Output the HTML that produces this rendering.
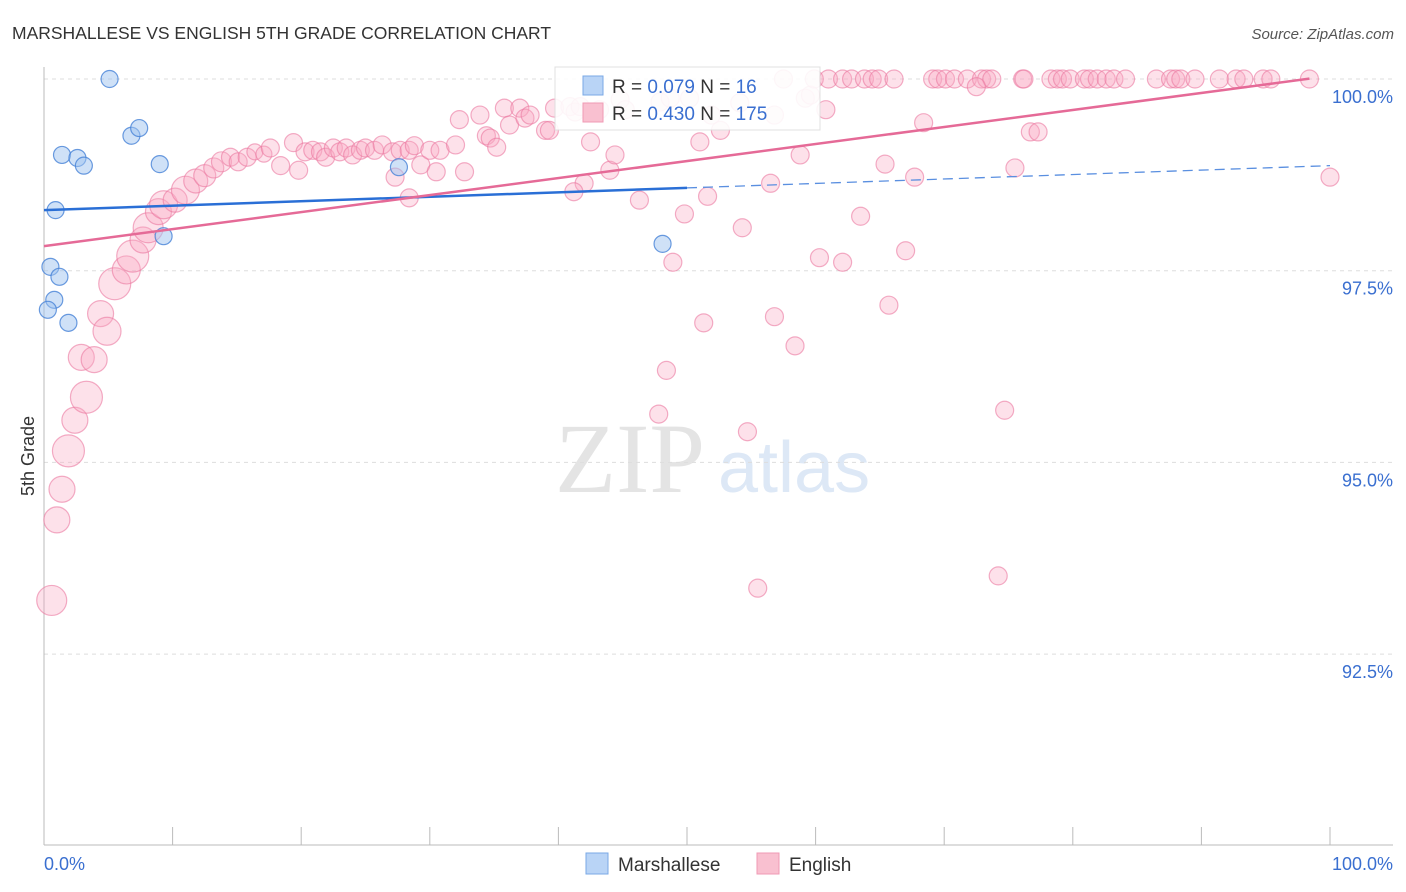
<!DOCTYPE html>
<html><head><meta charset="utf-8"><style>
body{margin:0;background:#fff;font-family:"Liberation Sans",sans-serif}
svg{display:block}
</style></head><body>
<svg id="c" width="1406" height="892" xmlns="http://www.w3.org/2000/svg">
<text x="12" y="39" font-size="17.5" fill="#333">MARSHALLESE VS ENGLISH 5TH GRADE CORRELATION CHART</text>
<text x="1394" y="39" font-size="15" fill="#555" text-anchor="end" font-style="italic">Source: ZipAtlas.com</text>
<text x="555" y="492" font-size="100" fill="#e4e4e4" font-family="Liberation Serif,serif">ZIP</text>
<text x="718" y="492" font-size="72" fill="#dde8f6">atlas</text>
<g id="grid"></g><g id="axes"></g><g id="pink"></g><g id="blue"></g><g id="lines"></g>
<text transform="translate(34,456) rotate(-90)" font-size="18" fill="#333" text-anchor="middle">5th Grade</text>
<g>
<rect x="555" y="67" width="265" height="63" fill="#fff" stroke="#ddd" opacity="0.9"/>
<rect x="583" y="76" width="20" height="19" fill="#b9d4f6" stroke="#7aa8e6"/>
<rect x="583" y="103" width="20" height="19" fill="#f9c0d0" stroke="#f09ab4"/>
<text x="612" y="93" font-size="19" fill="#333">R = <tspan fill="#3a6fd0">0.079</tspan>   N =   <tspan fill="#3a6fd0">16</tspan></text>
<text x="612" y="120" font-size="19" fill="#333">R = <tspan fill="#3a6fd0">0.430</tspan>   N = <tspan fill="#3a6fd0">175</tspan></text>
</g>
<g>
<rect x="586" y="853" width="22" height="21" fill="#b9d4f6" stroke="#7aa8e6"/>
<text x="618" y="871" font-size="19" fill="#333">Marshallese</text>
<rect x="757" y="853" width="22" height="21" fill="#f9c0d0" stroke="#f09ab4"/>
<text x="789" y="871" font-size="19" fill="#333">English</text>
</g>
</svg>
<script>
const yTicks=[100,97.5,95,92.5];
const yTickLabels=["100.0%","97.5%","95.0%","92.5%"];
const xTickLabels=["0.0%","100.0%"];
const blueX=[5.1,1.4,2.6,3.1,6.8,7.4,9.0,0.9,9.3,0.5,1.2,0.8,0.3,1.9,27.6,48.1];
const blueY=[100,99.01,98.97,98.87,99.26,99.36,98.89,98.29,97.95,97.55,97.42,97.12,96.99,96.82,98.85,97.85];
const pinkX=[0.6,1.0,1.4,1.9,2.4,3.3,2.9,3.9,4.4,4.9,5.5,6.4,6.9,7.7,8.1,8.9,9.3,10.2,11.0,11.8,12.5,13.2,13.8,14.5,15.1,15.8,16.4,17.1,
17.6,18.4,19.4,19.8,20.3,20.9,21.5,21.9,22.5,23.0,23.5,24.0,24.6,25.0,25.7,26.3,27.1,27.7,28.4,28.8,29.3,30.0,30.5,30.8,32.0,32.7,32.3,33.9,34.4,34.7,35.2,35.8,36.2,37.0,37.4,37.8,39.0,39.3,39.7,40.9,41.3,41.7,42.5,42.8,43.2,44.0,44.4,44.8,45.2,46.3,47.9,48.7,49.8,50.2,51.0,51.6,51.9,52.6,54.1,54.3,56.5,56.8,58.8,59.2,59.6,60.8,63.5,65.4,67.0,67.7,68.4,75.5,76.7,77.3,100.0,
48.9,51.3,48.4,47.8,54.7,55.5,56.8,58.4,60.3,62.1,65.7,74.7,74.2,42.0,41.2,28.4,27.3,
59.9,61.0,62.1,62.8,63.8,64.4,64.9,66.1,69.1,69.5,70.1,70.8,71.8,72.9,73.3,73.7,76.1,76.2,78.3,78.8,79.2,79.8,80.9,81.3,81.9,82.6,83.2,84.1,86.5,87.6,88.0,88.4,89.5,91.4,92.7,93.3,94.8,95.4,98.4,57.5,72.5];
const pinkY=[93.2,94.25,94.65,95.15,95.55,95.85,96.37,96.34,96.94,96.71,97.33,97.51,97.69,97.90,98.06,98.27,98.36,98.42,98.55,98.67,98.74,98.84,98.92,98.98,98.92,98.98,99.05,99.02,
99.10,98.87,99.17,98.81,99.05,99.07,99.05,98.98,99.10,99.05,99.10,99.01,99.07,99.10,99.07,99.14,99.05,99.07,99.07,99.13,98.88,99.07,98.79,99.07,99.14,98.79,99.47,99.53,99.26,99.23,99.11,99.62,99.40,99.62,99.49,99.53,99.33,99.33,99.62,99.64,99.57,99.64,99.18,99.57,99.60,98.81,99.01,99.73,99.60,98.42,99.70,99.75,98.24,99.75,99.18,98.47,99.53,99.33,99.69,98.06,98.64,99.53,99.01,99.75,99.79,99.60,98.21,98.89,97.76,98.72,99.43,98.84,99.31,99.31,98.72,
97.61,96.82,96.20,95.63,95.40,93.36,96.90,96.52,97.67,97.61,97.05,95.68,93.52,98.64,98.53,98.45,98.72,
100,100,100,100,100,100,100,100,100,100,100,100,100,100,100,100,100,100,100,100,100,100,100,100,100,100,100,100,100,100,100,100,100,100,100,100,100,100,100,100,99.9];
const pinkR=[15,13,13,16,13,16,13,13,13,14,16,14,16,13,15,13,14,12,14,12,11,10,10,9,9,9,8,8];
const blueTrend=[98.29,98.87];
const pinkTrend=[97.82,100.04];
const NS="http://www.w3.org/2000/svg";
const X0=44,X1=1330,Y100=79,PXPER=76.68;
function xs(v){return X0+(X1-X0)*v/100;}
function ys(v){return Y100+(100-v)*PXPER;}
function mk(tag,attrs,parent){const e=document.createElementNS(NS,tag);for(const k in attrs)e.setAttribute(k,attrs[k]);parent.appendChild(e);return e;}
const grid=document.getElementById('grid'),axes=document.getElementById('axes');
yTicks.forEach((t,i)=>{
 const l=mk('line',{x1:44,x2:1393,y1:ys(t),y2:ys(t),stroke:'#ddd','stroke-dasharray':'4,4'},grid);
 
 
 const tx=mk('text',{x:1393,y:ys(t)+24,'font-size':18,fill:'#3a6fd0','text-anchor':'end'},axes);
 tx.textContent=yTickLabels[i];
 
 
});
const ax=mk('line',{x1:44,x2:44,y1:67,y2:845,stroke:'#bbb'},axes);


const bx=mk('line',{x1:44,x2:1393,y1:845,y2:845,stroke:'#bbb'},axes);


for(let i=1;i<=10;i++){const t=mk('line',{x1:xs(i*10),x2:xs(i*10),y1:827,y2:845,stroke:'#bbb'},axes);
 
 }
const xl0=mk('text',{x:44,y:870,'font-size':18,fill:'#3a6fd0'},axes);xl0.textContent=xTickLabels[0];


const xl1=mk('text',{x:1393,y:870,'font-size':18,fill:'#3a6fd0','text-anchor':'end'},axes);xl1.textContent=xTickLabels[1];


const pg=document.getElementById('pink');
pinkX.forEach((v,i)=>{const c=mk('circle',{cx:xs(v),cy:ys(pinkY[i]),r:pinkR[i]||9,fill:'rgba(248,170,195,0.35)',stroke:'rgba(235,120,160,0.6)','stroke-width':1.2},pg);
 
 });
const bg=document.getElementById('blue');
blueX.forEach((v,i)=>{const c=mk('circle',{cx:xs(v),cy:ys(blueY[i]),r:8.5,fill:'rgba(160,195,240,0.5)',stroke:'rgba(70,130,215,0.8)','stroke-width':1.2},bg);
 
 });
const lg=document.getElementById('lines');
const bs=(blueTrend[1]-blueTrend[0])/100;
const b1=mk('line',{x1:xs(0),y1:ys(blueTrend[0]),x2:xs(50),y2:ys(blueTrend[0]+bs*50),stroke:'#2a6fd6','stroke-width':2.5},lg);


const b2=mk('line',{x1:xs(50),y1:ys(blueTrend[0]+bs*50),x2:xs(100),y2:ys(blueTrend[1]),stroke:'#5a8fe0','stroke-width':1.3,'stroke-dasharray':'10,6'},lg);


const ps=(pinkTrend[1]-pinkTrend[0])/100;
const p1=mk('line',{x1:xs(0),y1:ys(pinkTrend[0]),x2:xs(98.4),y2:ys(pinkTrend[0]+ps*98.4),stroke:'#e56a97','stroke-width':2.5},lg);


</script>
</body></html>
